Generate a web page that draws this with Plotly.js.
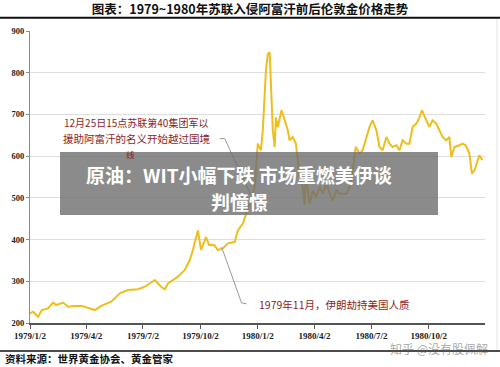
<!DOCTYPE html>
<html>
<head>
<meta charset="utf-8">
<script src="https://cdn.plot.ly/plotly-3.0.1.min.js"></script>
<style>html,body{margin:0;padding:0;background:#fff;}#chart{width:500px;height:367px;}</style>
</head>
<body>
<div id="chart"></div>
<script>
const dates = [
"1979-01-02","1979-01-07","1979-01-15","1979-01-21","1979-01-31","1979-02-08","1979-02-13","1979-02-24",
"1979-03-04","1979-03-15","1979-03-26","1979-04-05","1979-04-16","1979-04-26","1979-05-12","1979-05-26",
"1979-06-08","1979-06-24","1979-07-05","1979-07-21","1979-07-31","1979-08-06","1979-08-11","1979-08-27",
"1979-09-07","1979-09-15","1979-09-20","1979-09-28","1979-10-03","1979-10-11","1979-10-16","1979-10-24",
"1979-10-30","1979-11-07","1979-11-15","1979-11-26","1979-12-01","1979-12-09","1979-12-15","1979-12-20",
"1979-12-28","1980-01-02","1980-01-07","1980-01-10","1980-01-15","1980-01-18","1980-01-21","1980-01-23",
"1980-01-26","1980-01-29","1980-01-31","1980-02-03","1980-02-09","1980-02-14","1980-02-19","1980-02-22",
"1980-02-27","1980-03-03","1980-03-09","1980-03-14","1980-03-17","1980-03-19","1980-03-25","1980-03-30",
"1980-04-04","1980-04-10","1980-04-15","1980-04-21","1980-04-26","1980-05-01","1980-05-07","1980-05-12",
"1980-05-23","1980-05-28","1980-06-02","1980-06-07","1980-06-13","1980-06-18","1980-06-24","1980-06-29",
"1980-07-04","1980-07-10","1980-07-15","1980-07-20","1980-07-26","1980-07-31","1980-08-05","1980-08-11",
"1980-08-16","1980-08-21","1980-08-27","1980-09-01","1980-09-06","1980-09-12","1980-09-17","1980-09-21",
"1980-09-28","1980-10-03","1980-10-08","1980-10-14","1980-10-19","1980-10-24","1980-10-30","1980-11-04",
"1980-11-07","1980-11-12","1980-11-20","1980-11-25","1980-11-30","1980-12-06","1980-12-10","1980-12-14",
"1980-12-16","1980-12-22","1980-12-27"
];
const goldPrice = [
223,227,215,231,235,249,243,249,
239,241,241,237,231,241,251,271,
279,281,287,303,287,281,295,311,
327,351,375,422,375,406,387,387,
375,379,391,394,422,438,462,486,
526,630,614,662,805,845,849,757,
662,622,693,670,710,686,662,638,
646,630,550,526,483,550,486,518,
502,526,510,534,510,494,518,510,
510,526,566,622,606,614,646,670,
686,662,622,614,646,630,622,626,
614,638,630,630,670,678,693,710,
686,670,686,678,662,646,638,646,
598,622,626,630,626,606,558,566,
574,602,590
];
const tickDates = ["1979-01-02","1979-04-02","1979-07-02","1979-10-02","1980-01-02","1980-04-02","1980-07-02","1980-10-02"];
const tickLabels = ["1979/1/2","1979/4/2","1979/7/2","1979/10/2","1980/1/2","1980/4/2","1980/7/2","1980/10/2"];
const yTicks = [200,300,400,500,600,700,800,900];

const titleText = "图表：1979~1980年苏联入侵阿富汗前后伦敦金价格走势";
const sourceText = "资料来源：世界黄金协会、黄金管家";
const note1 = ["12月25日15点苏联第40集团军以","援助阿富汗的名义开始越过国境","线"];
const note2 = "1979年11月，伊朗劫持美国人质";
const overlayLines = ["原油：WIT小幅下跌 市场重燃美伊谈","判憧憬"];
const watermark = "知乎 @没有股佩解";

const CJK = "Noto Sans CJK SC";
const red = "#8B1E1E";

// pixel -> paper helpers (plot area: x 30..485, y 31..323)
const px = v => (v - 30) / 455;
const py = v => (323 - v) / 292;

const trace = {
  x: dates, y: goldPrice, type: "scatter", mode: "lines",
  line: {color: "#EDBE1C", width: 2}, hoverinfo: "skip"
};

const layout = {
  width: 500, height: 367,
  margin: {l: 30, r: 15, t: 31, b: 44},
  paper_bgcolor: "#fff", plot_bgcolor: "#fff",
  showlegend: false,
  title: {text: titleText, x: 0.5, xref: "container", y: 1 - 10/367, yref: "container", yanchor: "middle",
    font: {family: CJK, size: 12.5, color: "#111", weight: "bold"}},
  xaxis: {
    type: "date", range: ["1979-01-02", "1980-12-31"],
    tickmode: "array", tickvals: tickDates, ticktext: tickLabels,
    showgrid: false, showline: true, linecolor: "#555", linewidth: 1.5,
    ticks: "outside", ticklen: 4, tickcolor: "#555",
    tickfont: {family: "Liberation Serif", size: 9, color: "#222", weight: "bold"},
    zeroline: false, fixedrange: true
  },
  yaxis: {
    range: [200, 900], tickmode: "array", tickvals: yTicks,
    showgrid: true, gridcolor: "#dedede", gridwidth: 1,
    showline: true, linecolor: "#8c8c8c", linewidth: 1,
    ticks: "outside", ticklen: 3, tickcolor: "#8c8c8c",
    tickfont: {family: "Liberation Serif", size: 8.5, color: "#222", weight: "bold"},
    zeroline: false, fixedrange: true
  },
  shapes: [
    {type: "line", xref: "paper", yref: "paper", x0: px(0), x1: px(500), y0: py(17.7), y1: py(17.7), line: {color: "#111", width: 2}},
    {type: "line", xref: "paper", yref: "paper", x0: px(0), x1: px(500), y0: py(351), y1: py(351), line: {color: "#111", width: 1.5}},
    {type: "line", xref: "paper", yref: "paper", x0: px(497), x1: px(497), y0: py(19), y1: py(350), line: {color: "#e4e4e4", width: 1}},
    {type: "line", xref: "x", yref: "y", x0: "1979-11-02", y0: 642, x1: "1979-11-10", y1: 642, line: {color: "#9a9a9a", width: 1}},
    {type: "line", xref: "x", yref: "y", x0: "1979-11-10", y0: 642, x1: "1979-12-24", y1: 500, line: {color: "#9a9a9a", width: 1}},
    {type: "line", xref: "x", yref: "y", x0: "1979-11-05", y0: 382, x1: "1979-12-07", y1: 248, line: {color: "#9a9a9a", width: 1}},
    {type: "line", xref: "x", yref: "y", x0: "1979-12-07", y0: 248, x1: "1979-12-15", y1: 246, line: {color: "#9a9a9a", width: 1}},
    {type: "rect", xref: "paper", yref: "paper", x0: px(60), x1: px(438), y0: py(215), y1: py(152),
      fillcolor: "rgba(110,110,110,0.8)", line: {width: 0}, layer: "above"}
  ],
  annotations: [
    {xref: "paper", yref: "paper", x: px(136), y: py(122), text: note1[0], showarrow: false, xanchor: "center", yanchor: "middle",
      font: {family: CJK, size: 10, color: red}},
    {xref: "paper", yref: "paper", x: px(136), y: py(138.5), text: note1[1], showarrow: false, xanchor: "center", yanchor: "middle",
      font: {family: CJK, size: 10.5, color: red}},
    {xref: "paper", yref: "paper", x: px(130), y: py(153.5), text: note1[2], showarrow: false, xanchor: "center", yanchor: "middle",
      font: {family: CJK, size: 8.5, color: red}},
    {xref: "paper", yref: "paper", x: px(239), y: py(174), text: overlayLines[0], showarrow: false, xanchor: "center", yanchor: "middle",
      font: {family: CJK, size: 19, color: "#fff", weight: "bold"}},
    {xref: "paper", yref: "paper", x: px(239), y: py(201), text: overlayLines[1], showarrow: false, xanchor: "center", yanchor: "middle",
      font: {family: CJK, size: 19, color: "#fff", weight: "bold"}},
    {xref: "paper", yref: "paper", x: px(257), y: py(304), text: note2, showarrow: false, xanchor: "left", yanchor: "middle",
      font: {family: CJK, size: 10.5, color: red}},
    {xref: "paper", yref: "paper", x: px(3), y: py(358), text: sourceText, showarrow: false, xanchor: "left", yanchor: "middle",
      font: {family: CJK, size: 10.5, color: "#111", weight: "bold"}},
    {xref: "paper", yref: "paper", x: px(490), y: py(348), text: watermark, showarrow: false, xanchor: "right", yanchor: "middle",
      font: {family: CJK, size: 12, color: "rgba(90,90,90,0.55)"}}
  ]
};

Plotly.newPlot("chart", [trace], layout, {displayModeBar: false, staticPlot: true});
</script>
</body>
</html>
